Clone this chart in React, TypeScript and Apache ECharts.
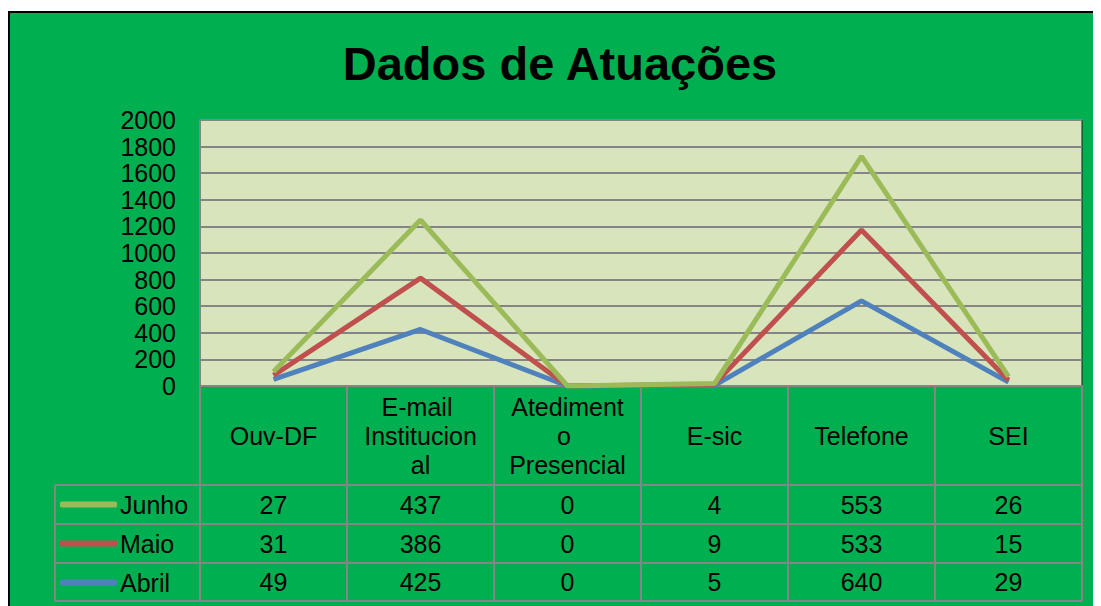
import React, { useEffect, useRef } from "react";
import * as echarts from "echarts";

const categories = ["Ouv-DF", "E-mail Institucional", "Atedimento Presencial", "E-sic", "Telefone", "SEI"];
const seriesNames = ["Junho", "Maio", "Abril"];
const junho = [27, 437, 0, 4, 553, 26];
const maio = [31, 386, 0, 9, 533, 15];
const abril = [49, 425, 0, 5, 640, 29];
const yMin = 0;
const yMax = 2000;
const yInterval = 200;

const FONT = "'Liberation Sans', Arial, sans-serif";
const GREEN_BG = "#00B050";
const PLOT_BG = "#D8E4BC";
const GRID_GRAY = "#858585";
const COLORS: Record<string, string> = { Junho: "#9BBB59", Maio: "#C0504D", Abril: "#4F81BD" };

const W = 1091;
const H = 593;
const GRID_LEFT = 190;
const GRID_TOP = 107;
const GRID_W = 882;
const GRID_H = 266;
const HEADER_H = 99;
const ROW_H = [39, 39, 38];
const LEGEND_X = 45;

export default function App() {
  const ref = useRef<HTMLDivElement>(null);
  useEffect(() => {
    if (!ref.current) return;
    const chart = echarts.init(ref.current, undefined, { renderer: "svg" });
    const gridBottom = GRID_TOP + GRID_H;
    const rowTops: number[] = [];
    let acc = HEADER_H;
    for (let i = 0; i < ROW_H.length; i++) {
      rowTops.push(acc);
      acc += ROW_H[i];
    }
    const tableBottom = acc;
    const rowValues: Record<string, number[]> = { Junho: junho, Maio: maio, Abril: abril };

    const rowAxes = seriesNames.map((name, i) => ({
      type: "category",
      gridIndex: 0,
      position: "bottom",
      offset: rowTops[i],
      data: categories,
      boundaryGap: true,
      axisLine: { show: true, lineStyle: { color: GRID_GRAY, width: 2 } },
      axisTick: { show: true, interval: 0, length: ROW_H[i], lineStyle: { color: GRID_GRAY, width: 2 } },
      axisLabel: {
        show: true,
        interval: 0,
        margin: ROW_H[i] / 2,
        verticalAlign: "middle",
        fontSize: 25,
        fontFamily: FONT,
        color: "#000",
        formatter: (_v: string, idx: number) => String(rowValues[name][idx]),
      },
    }));

    const graphics: any[] = [];
    const lineStyle = { stroke: GRID_GRAY, lineWidth: 2 };
    [HEADER_H, ...rowTops.slice(1), tableBottom].forEach((off) => {
      graphics.push({
        type: "line",
        shape: { x1: LEGEND_X, y1: gridBottom + off, x2: GRID_LEFT, y2: gridBottom + off },
        style: lineStyle,
      });
    });
    graphics.push({
      type: "line",
      shape: { x1: LEGEND_X, y1: gridBottom + tableBottom, x2: GRID_LEFT + GRID_W, y2: gridBottom + tableBottom },
      style: lineStyle,
    });
    graphics.push({
      type: "line",
      shape: { x1: LEGEND_X, y1: gridBottom + HEADER_H, x2: LEGEND_X, y2: gridBottom + tableBottom },
      style: lineStyle,
    });

    const stackOrder = ["Abril", "Maio", "Junho"];
    chart.setOption({
      animation: false,
      backgroundColor: GREEN_BG,
      title: {
        text: "Dados de Atuações",
        left: 550,
        top: 27,
        padding: 0,
        textAlign: "center",
        textStyle: { fontSize: 47, fontWeight: "bold", color: "#000", fontFamily: FONT },
      },
      legend: {
        data: seriesNames,
        orient: "vertical",
        left: 50,
        top: gridBottom + HEADER_H + ROW_H[0] / 2 - 12.5,
        padding: 0,
        itemGap: 14,
        itemWidth: 57,
        itemHeight: 6,
        icon: "roundRect",
        textStyle: { fontSize: 25, lineHeight: 25, color: "#000", fontFamily: FONT, padding: [0, 0, 0, -2] },
      },
      grid: {
        left: GRID_LEFT,
        top: GRID_TOP,
        width: GRID_W,
        height: GRID_H,
        show: true,
        backgroundColor: PLOT_BG,
        borderColor: "#1a1a1a",
        borderWidth: 1,
      },
      xAxis: [
        {
          type: "category",
          data: categories,
          boundaryGap: true,
          position: "bottom",
          axisLine: { show: true, lineStyle: { color: GRID_GRAY, width: 2 } },
          axisTick: { show: true, interval: 0, length: HEADER_H, lineStyle: { color: GRID_GRAY, width: 2 } },
          axisLabel: {
            interval: 0,
            margin: HEADER_H / 2,
            verticalAlign: "middle",
            fontSize: 25,
            lineHeight: 29,
            fontFamily: FONT,
            color: "#000",
            width: 125,
            overflow: "break",
          },
        },
        ...rowAxes,
      ],
      yAxis: {
        type: "value",
        min: yMin,
        max: yMax,
        interval: yInterval,
        axisLine: { show: true, lineStyle: { color: GRID_GRAY, width: 2 } },
        axisTick: { show: false },
        axisLabel: {
          margin: 24,
          fontSize: 25,
          fontFamily: FONT,
          color: "#000",
          formatter: (v: number) => String(v),
        },
        splitLine: { show: true, lineStyle: { color: GRID_GRAY, width: 2 } },
      },
      graphic: graphics,
      series: stackOrder.map((name) => ({
        name,
        type: "line",
        stack: "total",
        data: rowValues[name],
        symbol: "none",
        color: COLORS[name],
        lineStyle: { width: 5, color: COLORS[name] },
        itemStyle: { color: COLORS[name] },
      })),
    });
    return () => chart.dispose();
  }, []);

  return (
    <div style={{ paddingTop: 3 }}>
      <div style={{ borderTop: "2px solid #000", borderLeft: "2px solid #000", width: W, height: H }}>
        <div ref={ref} style={{ width: W, height: H }} />
      </div>
    </div>
  );
}
